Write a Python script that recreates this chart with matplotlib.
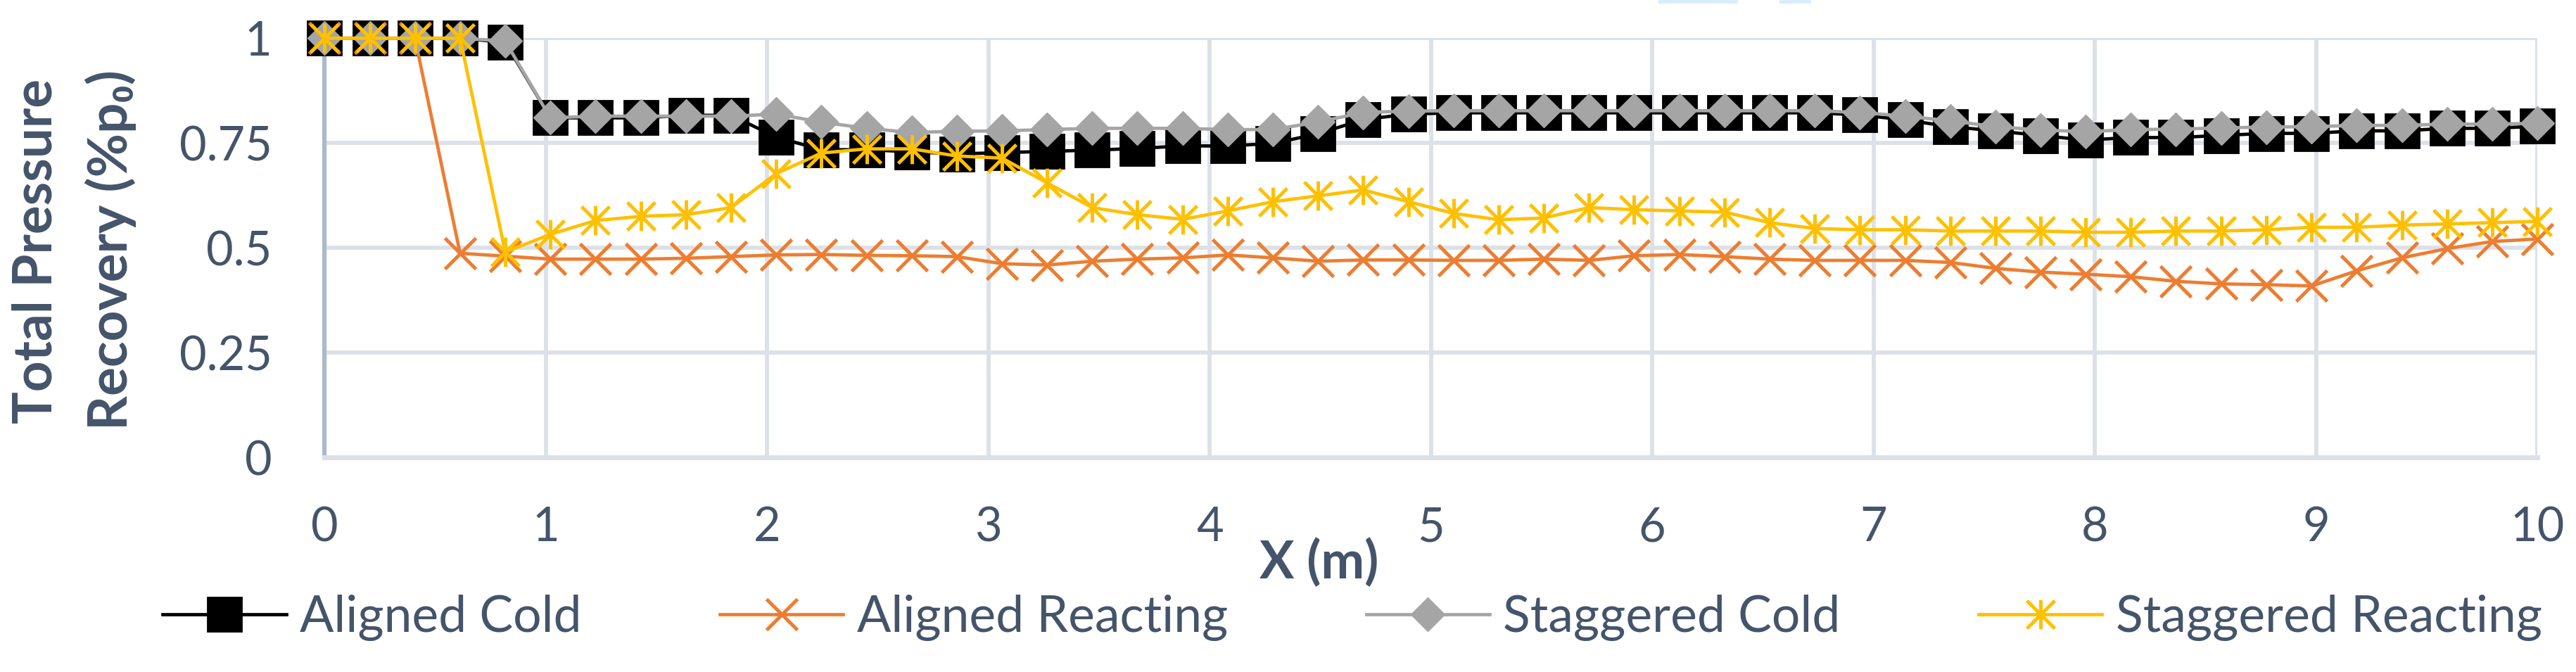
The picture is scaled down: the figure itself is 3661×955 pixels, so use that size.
import matplotlib
matplotlib.use("Agg")
import matplotlib.pyplot as plt
from matplotlib.path import Path
from matplotlib.patches import Rectangle

# ---------------- data ----------------
x_m = [0.0, 0.204, 0.408, 0.612, 0.816, 1.020, 1.224, 1.429, 1.633, 1.837,
       2.041, 2.245, 2.449, 2.653, 2.857, 3.061, 3.265, 3.469, 3.673, 3.878,
       4.082, 4.286, 4.490, 4.694, 4.898, 5.102, 5.306, 5.510, 5.714, 5.918,
       6.122, 6.327, 6.531, 6.735, 6.939, 7.143, 7.347, 7.551, 7.755, 7.959,
       8.163, 8.367, 8.571, 8.776, 8.980, 9.184, 9.388, 9.592, 9.796, 10.0]

aligned_cold = [1.0, 1.0, 1.0, 1.0, 0.99, 0.81, 0.81, 0.81, 0.816, 0.816,
                0.764, 0.734, 0.734, 0.729, 0.724, 0.727, 0.730, 0.733, 0.737, 0.743,
                0.743, 0.749, 0.772, 0.806, 0.819, 0.822, 0.822, 0.822, 0.822, 0.822,
                0.822, 0.822, 0.822, 0.822, 0.817, 0.805, 0.789, 0.779, 0.768, 0.757,
                0.763, 0.763, 0.768, 0.773, 0.773, 0.779, 0.779, 0.785, 0.785, 0.790]

aligned_reacting = [1.0, 1.0, 1.0, 0.487, 0.48, 0.473, 0.473, 0.473, 0.475, 0.479,
                    0.483, 0.484, 0.482, 0.481, 0.479, 0.462, 0.459, 0.468, 0.473, 0.476,
                    0.483, 0.476, 0.468, 0.471, 0.471, 0.470, 0.470, 0.473, 0.470, 0.481,
                    0.484, 0.479, 0.473, 0.470, 0.470, 0.470, 0.465, 0.451, 0.442, 0.437,
                    0.431, 0.420, 0.414, 0.412, 0.409, 0.445, 0.476, 0.498, 0.515, 0.521]

staggered_cold = [1.0, 1.0, 1.0, 1.0, 0.993, 0.81, 0.814, 0.814, 0.814, 0.814,
                  0.819, 0.80, 0.785, 0.775, 0.778, 0.779, 0.782, 0.785, 0.785, 0.785,
                  0.782, 0.782, 0.80, 0.823, 0.826, 0.827, 0.827, 0.827, 0.827, 0.827,
                  0.827, 0.827, 0.827, 0.827, 0.823, 0.814, 0.803, 0.789, 0.781, 0.777,
                  0.782, 0.783, 0.786, 0.788, 0.789, 0.792, 0.792, 0.795, 0.795, 0.797]

staggered_reacting = [1.0, 1.0, 1.0, 1.0, 0.49, 0.532, 0.565, 0.575, 0.579, 0.596,
                      0.677, 0.726, 0.736, 0.736, 0.719, 0.714, 0.655, 0.596, 0.579, 0.568,
                      0.588, 0.610, 0.624, 0.638, 0.610, 0.582, 0.567, 0.571, 0.596, 0.591,
                      0.588, 0.585, 0.560, 0.546, 0.543, 0.543, 0.540, 0.540, 0.540, 0.537,
                      0.537, 0.540, 0.540, 0.543, 0.549, 0.549, 0.554, 0.557, 0.560, 0.563]

series_names = ["Aligned Cold", "Aligned Reacting", "Staggered Cold", "Staggered Reacting"]
x_ticks = [0, 1, 2, 3, 4, 5, 6, 7, 8, 9, 10]
y_ticks = [0, 0.25, 0.5, 0.75, 1]
y_tick_labels = ["0", "0.25", "0.5", "0.75", "1"]

# ---------------- style ----------------
TEXT = "#44546A"
GRID = "#DCE1E8"
FONT = ["Lato", "DejaVu Sans"]
plt.rcParams["font.family"] = FONT

W, H = 3661, 955
fig = plt.figure(figsize=(W / 100, H / 100), dpi=100)
left, right = 461.4 / W, 3606 / W
bottom, top = (H - 650) / H, (H - 54.3) / H
ax = fig.add_axes([left, bottom, right - left, top - bottom])

# Excel-like star marker: X plus vertical bar
star = Path([(-1, -1), (1, 1), (-1, 1), (1, -1), (0, -1.05), (0, 1.05)],
            [Path.MOVETO, Path.LINETO, Path.MOVETO, Path.LINETO, Path.MOVETO, Path.LINETO])

common = dict(clip_on=False, linewidth=3.4)
ax.plot(x_m, aligned_cold, color="#000000", marker="s", markersize=34,
        markerfacecolor="#000000", markeredgecolor="#000000", markeredgewidth=2,
        label=series_names[0], zorder=3, **common)
ax.plot(x_m, aligned_reacting, color="#ED7D31", marker="x", markersize=31,
        markeredgewidth=3.6, label=series_names[1], zorder=4, **common)
ax.plot(x_m, staggered_cold, color="#A5A5A5", marker="D", markersize=24.5,
        markerfacecolor="#A5A5A5", markeredgecolor="#A5A5A5", markeredgewidth=1,
        label=series_names[2], zorder=5, **common)
ax.plot(x_m, staggered_reacting, color="#FFC000", marker=star, markersize=30,
        markeredgewidth=3.6, label=series_names[3], zorder=6, **common)

ax.set_xlim(0, 10)
ax.set_ylim(0, 1)
ax.set_xticks(x_ticks)
ax.set_yticks(y_ticks)
ax.set_yticklabels(y_tick_labels)
ax.grid(True, color=GRID, linewidth=4.2, zorder=0)
ax.set_axisbelow(True)
for s in ["top", "right"]:
    ax.spines[s].set_visible(False)
ax.spines["left"].set_color("#ADB9CA")
ax.spines["left"].set_linewidth(4.5)
ax.spines["bottom"].set_color(GRID)
ax.spines["bottom"].set_linewidth(5)
ax.tick_params(axis="both", length=0, labelcolor=TEXT, labelsize=48)
ax.tick_params(axis="y", pad=54)
ax.tick_params(axis="x", pad=50)

# axis titles
fig.text(52 / W, 1 - 357 / H, "Total Pressure", rotation=90, ha="center", va="center",
         fontsize=55, fontweight="bold", color=TEXT)
fig.text(157 / W, 1 - 355 / H, "Recovery (%p\u2080)", rotation=90, ha="center", va="center",
         fontsize=55, fontweight="bold", color=TEXT, family=FONT)
fig.text(1875 / W, 1 - 800 / H, "X (m)", ha="center", va="center",
         fontsize=53, fontweight="bold", color=TEXT)

# legend
leg = fig.legend(loc="center", bbox_to_anchor=(1922 / W, 1 - 878 / H), ncol=4,
                 frameon=False, fontsize=51.5, handlelength=2.45, handletextpad=0.27,
                 columnspacing=2.75, borderaxespad=0, borderpad=0)
for t in leg.get_texts():
    t.set_color(TEXT)

# faint light-blue artifacts at the very top
for x0, x1 in [(2357, 2469), (2529, 2573)]:
    fig.patches.append(Rectangle((x0 / W, 1 - 4 / H), (x1 - x0) / W, 4 / H,
                                 transform=fig.transFigure, color="#D8EEFB", zorder=0))

fig.savefig("out.png", dpi=100, facecolor="white")
